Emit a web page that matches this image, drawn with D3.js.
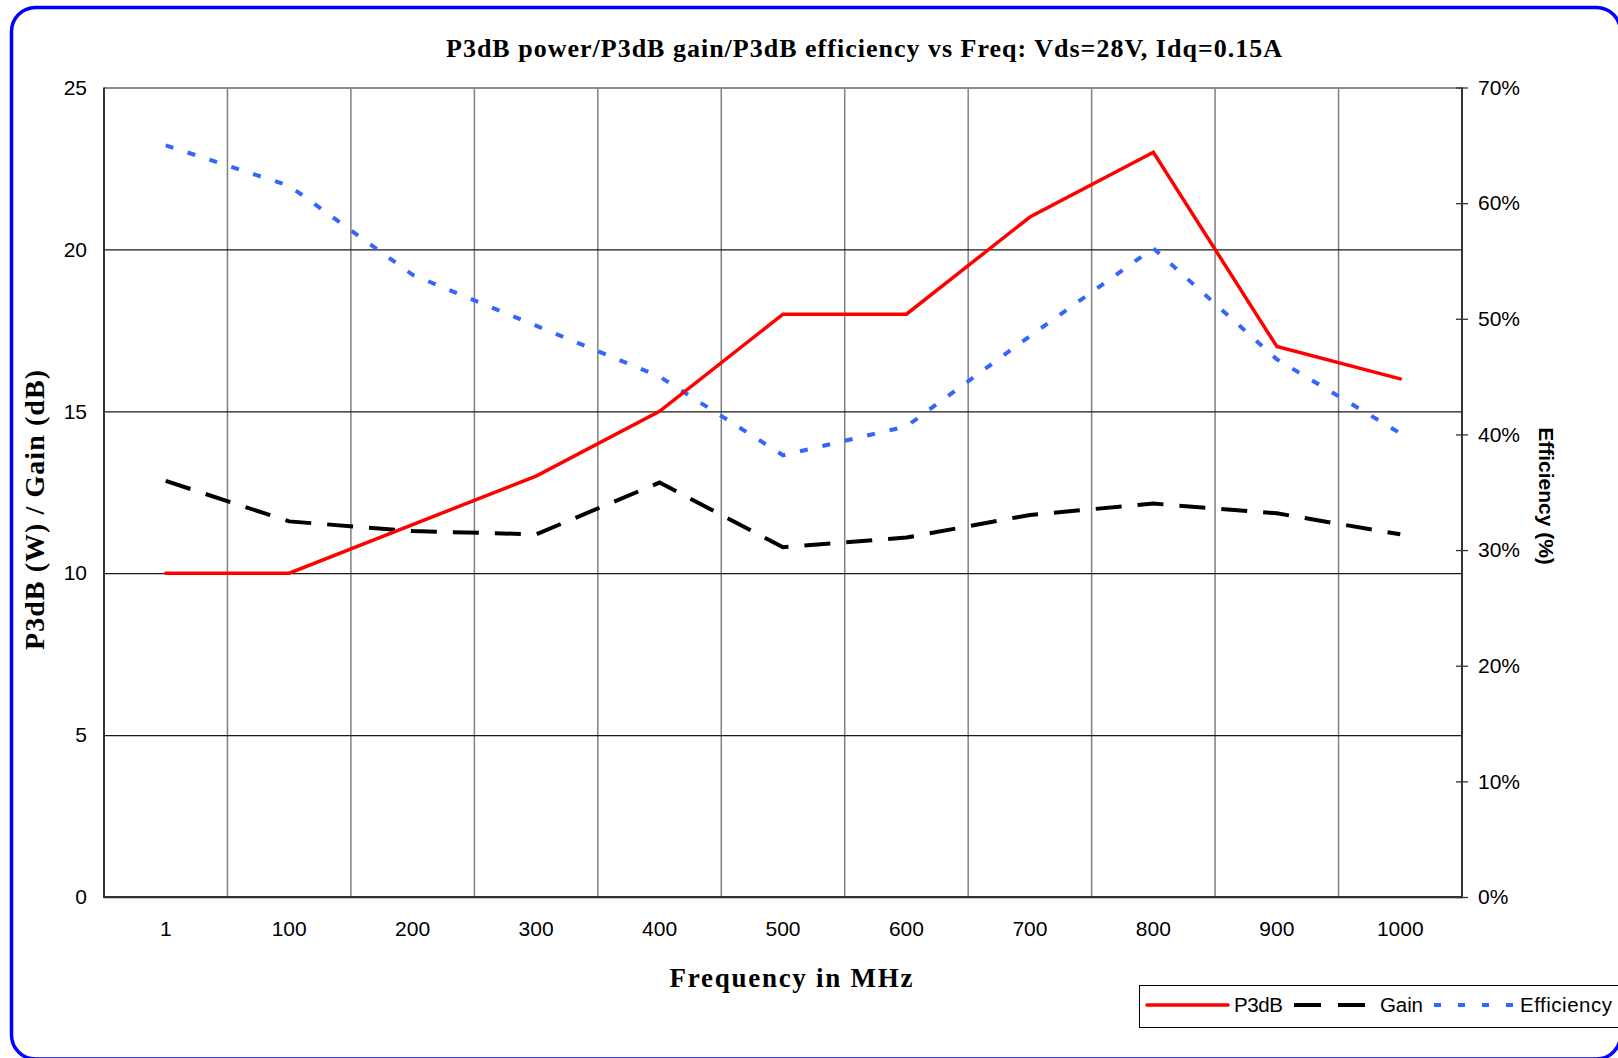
<!DOCTYPE html>
<meta charset="utf-8">
<style>
    body { margin: 0; background: #fff; }
    .tick text { font: 21px "Liberation Sans", Arial, sans-serif; fill: #000; }
    .title, .xlabel, .ylabel { font-family: "Liberation Serif", "Times New Roman", serif; font-weight: bold; fill: #000; }
    .y2label { font: bold 21px "Liberation Sans", Arial, sans-serif; fill: #000; }
    .legend text { font: 20.5px "Liberation Sans", Arial, sans-serif; fill: #000; }
</style>
<svg width="1618" height="1058"></svg>
<script src="https://cdn.jsdelivr.net/npm/d3@7"></script>
<script>

    // data
    var freqs = ["1", "100", "200", "300", "400", "500", "600", "700", "800", "900", "1000"];
    var p3db = [10, 10, 11.5, 13, 15, 18, 18, 21, 23, 17, 16];
    var gain = [12.85, 11.6, 11.3, 11.2, 12.8, 10.8, 11.1, 11.8, 12.15, 11.85, 11.2];
    var efficiency = [0.65, 0.615, 0.538, 0.494, 0.45, 0.382, 0.407, 0.485, 0.561, 0.465, 0.401];
    var leftTicks = [0, 5, 10, 15, 20, 25];
    var rightTicks = [0, 0.1, 0.2, 0.3, 0.4, 0.5, 0.6, 0.7];

    var svg = d3.select("svg"),
        plotL = 104, plotR = 1462, plotT = 87.5, plotB = 897;

    // blue rounded frame (runs off the bottom and right edges)
    svg.append("rect")
        .attr("x", 11.5).attr("y", 7.5)
        .attr("width", 1609).attr("height", 1051.5)
        .attr("rx", 24).attr("ry", 24)
        .attr("fill", "none")
        .attr("stroke", "#0000ff")
        .attr("stroke-width", 3.5);

    var x = d3.scaleBand().domain(freqs).range([plotL, plotR]).padding(0);
    var y = d3.scaleLinear().domain([0, 25]).range([plotB, plotT]);
    var y2 = d3.scaleLinear().domain([0, 0.7]).range([plotB, plotT]);
    var cx = function(d, i) { return x(freqs[i]) + x.bandwidth() / 2; };

    // vertical grid at category boundaries
    svg.append("g").selectAll("line")
        .data(freqs.slice(1))
        .enter().append("line")
        .attr("x1", function(d) { return x(d); })
        .attr("x2", function(d) { return x(d); })
        .attr("y1", plotT).attr("y2", plotB)
        .attr("stroke", "#808080")
        .attr("stroke-width", 1.5);

    // left axis + horizontal grid
    var gy = svg.append("g")
        .attr("transform", "translate(" + plotL + ",0)")
        .call(d3.axisLeft(y).tickValues(leftTicks).tickSize(-(plotR - plotL)).tickPadding(17));
    gy.select(".domain").remove();
    gy.selectAll(".tick line")
        .attr("stroke", function(d) { return d === 25 ? "#8a8a8a" : "#1a1a1a"; })
        .attr("stroke-width", function(d) { return d === 25 ? 2 : 1.3; });

    // x axis
    var gx = svg.append("g")
        .attr("transform", "translate(0," + plotB + ")")
        .call(d3.axisBottom(x).tickSize(0).tickPadding(24));
    gx.select(".domain").remove();

    // frame lines
    svg.append("line").attr("x1", plotL).attr("x2", plotL).attr("y1", plotT).attr("y2", plotB + 1)
        .attr("stroke", "#333").attr("stroke-width", 2);
    svg.append("line").attr("x1", plotL).attr("x2", plotR).attr("y1", plotB).attr("y2", plotB)
        .attr("stroke", "#333").attr("stroke-width", 2);

    // right axis
    var gr = svg.append("g")
        .attr("transform", "translate(" + plotR + ",0)")
        .call(d3.axisRight(y2).tickValues(rightTicks).tickFormat(d3.format(".0%")).tickSize(6).tickPadding(10));
    gr.select(".domain").attr("d", "M0," + plotT + "V" + plotB).attr("stroke", "#333").attr("stroke-width", 2);
    gr.selectAll(".tick line").attr("x1", -6).attr("stroke", "#333").attr("stroke-width", 1.3);

    // series
    var lineL = d3.line().x(cx).y(function(d) { return y(d); });
    var lineR = d3.line().x(cx).y(function(d) { return y2(d); });

    svg.append("path").datum(efficiency)
        .attr("d", lineR)
        .attr("fill", "none")
        .attr("stroke", "#3366ff")
        .attr("stroke-width", 4)
        .attr("stroke-dasharray", "8,15");

    svg.append("path").datum(gain)
        .attr("d", lineL)
        .attr("fill", "none")
        .attr("stroke", "#000")
        .attr("stroke-width", 4)
        .attr("stroke-dasharray", "26,16");

    svg.append("path").datum(p3db)
        .attr("d", lineL)
        .attr("fill", "none")
        .attr("stroke", "#ff0000")
        .attr("stroke-width", 3.5)
        .attr("stroke-linecap", "round");

    // titles
    svg.append("text").attr("class", "title")
        .attr("x", 864).attr("y", 57)
        .attr("text-anchor", "middle")
        .attr("font-size", 26)
        .attr("textLength", 836)
        .text("P3dB power/P3dB gain/P3dB efficiency vs Freq: Vds=28V, Idq=0.15A");

    svg.append("text").attr("class", "xlabel")
        .attr("x", 791).attr("y", 987)
        .attr("text-anchor", "middle")
        .attr("font-size", 27)
        .attr("textLength", 243)
        .text("Frequency in MHz");

    svg.append("text").attr("class", "ylabel")
        .attr("transform", "translate(44,510) rotate(-90)")
        .attr("text-anchor", "middle")
        .attr("font-size", 28)
        .attr("textLength", 280)
        .text("P3dB (W) / Gain (dB)");

    svg.append("text").attr("class", "y2label")
        .attr("transform", "translate(1539,496) rotate(90)")
        .attr("text-anchor", "middle")
        .text("Efficiency (%)");

    // legend
    var legend = svg.append("g").attr("class", "legend");
    legend.append("rect")
        .attr("x", 1139.5).attr("y", 985.5)
        .attr("width", 520).attr("height", 42)
        .attr("fill", "#fff")
        .attr("stroke", "#000")
        .attr("stroke-width", 1);

    var legendItems = [
        { name: "P3dB", color: "#ff0000", dash: null, x1: 1147, x2: 1228, tx: 1234, w: 3.5, len: 49 },
        { name: "Gain", color: "#000", dash: "27,17", x1: 1294, x2: 1366, tx: 1380, w: 4, len: 43 },
        { name: "Efficiency", color: "#3366ff", dash: "7,17", x1: 1434, x2: 1514, tx: 1520, w: 4, len: 92 }
    ];
    var li = legend.selectAll(".item").data(legendItems).enter().append("g").attr("class", "item");
    li.append("line")
        .attr("x1", function(d) { return d.x1; })
        .attr("x2", function(d) { return d.x2; })
        .attr("y1", 1005).attr("y2", 1005)
        .attr("stroke", function(d) { return d.color; })
        .attr("stroke-width", function(d) { return d.w; })
        .attr("stroke-linecap", function(d) { return d.dash ? "butt" : "round"; })
        .attr("stroke-dasharray", function(d) { return d.dash; });
    li.append("text")
        .attr("x", function(d) { return d.tx; })
        .attr("y", 1012)
        .attr("textLength", function(d) { return d.len; })
        .text(function(d) { return d.name; });

</script>
